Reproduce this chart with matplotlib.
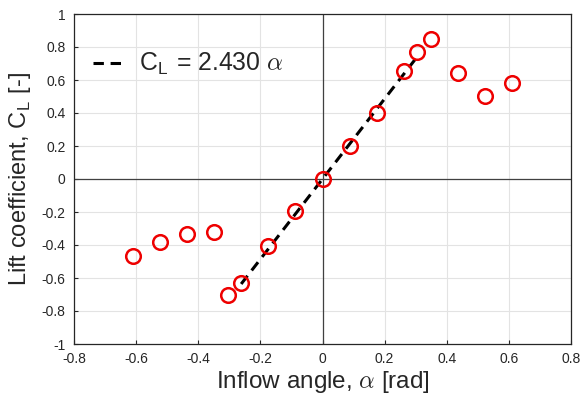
import numpy as np
import matplotlib
matplotlib.use("Agg")
import matplotlib.pyplot as plt

plt.rcParams['font.family'] = ['Liberation Sans', 'DejaVu Sans']
plt.rcParams['mathtext.fontset'] = 'custom'
plt.rcParams['mathtext.rm'] = 'Liberation Sans'
plt.rcParams['mathtext.it'] = 'cmmi10'
plt.rcParams['mathtext.sf'] = 'Liberation Sans'

# Measured inflow angles [rad] and lift coefficients [-]
alpha = [-0.6109, -0.5236, -0.4363, -0.3491, -0.3054, -0.2618, -0.1745, -0.0873,
         0.0, 0.0873, 0.1745, 0.2618, 0.3054, 0.3491, 0.4363, 0.5236, 0.6109]
cl = [-0.467, -0.382, -0.335, -0.321, -0.701, -0.632, -0.404, -0.196,
      0.0, 0.202, 0.398, 0.655, 0.772, 0.847, 0.640, 0.505, 0.584]

# Linear fit over the attached-flow range
slope = 2.430
fit_range = [-0.2618, 0.3054]

xticks = [-0.8, -0.6, -0.4, -0.2, 0, 0.2, 0.4, 0.6, 0.8]
yticks = [-1, -0.8, -0.6, -0.4, -0.2, 0, 0.2, 0.4, 0.6, 0.8, 1]

fig = plt.figure(figsize=(5.81, 4.00), dpi=100)
ax = fig.add_axes([74/581, 1 - 344/400, 497/581, 330/400])

fx = np.array(fit_range)
ax.plot(fx, slope * fx, color='black', linestyle=(0, (3.4, 2.2)), linewidth=2.2,
        label=r'C$_{\mathrm{L}}$ = 2.430 $\alpha$', zorder=3)
ax.plot(alpha, cl, linestyle='none', marker='o', markersize=10.5,
        markerfacecolor='none', markeredgecolor='#ee0000', markeredgewidth=1.8, zorder=4)

ax.axhline(0, color='#404040', linewidth=0.9, zorder=2)
ax.axvline(0, color='#404040', linewidth=0.9, zorder=2)

ax.set_xlim(-0.8, 0.8)
ax.set_ylim(-1, 1)
ax.set_xticks(xticks)
ax.set_yticks(yticks)
ax.set_xticklabels([f'{t:g}' for t in xticks])
ax.set_yticklabels([f'{t:g}' for t in yticks])
ax.grid(True, color='#e3e3e3', linewidth=0.8, zorder=0)
ax.set_axisbelow(True)
ax.tick_params(direction='in', length=3, width=0.8, colors='#262626',
               labelsize=10, labelcolor='#262626', pad=6)
for s in ax.spines.values():
    s.set_color('#262626')
    s.set_linewidth(0.9)

ax.set_xlabel(r'Inflow angle, $\alpha$ [rad]', fontsize=17.5, color='#262626', labelpad=2)
ax.set_ylabel(r'Lift coefficient, C$_{\mathrm{L}}$ [-]', fontsize=17, color='#262626', labelpad=6)

leg = ax.legend(loc='upper left', bbox_to_anchor=(0.038, 0.887), frameon=False,
                fontsize=17.8, handlelength=1.35, handletextpad=0.5,
                borderpad=0, borderaxespad=0)
for t in leg.get_texts():
    t.set_color('#262626')

fig.savefig('out.png', dpi=100)
